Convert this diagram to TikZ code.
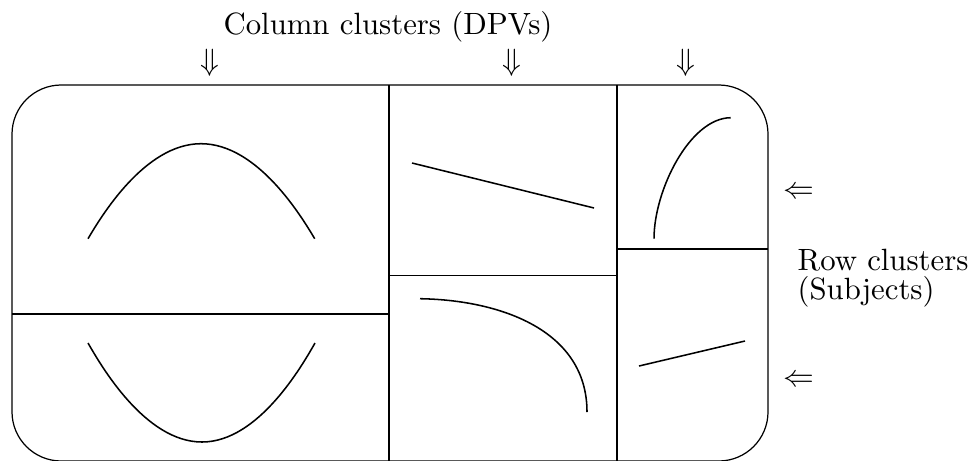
\documentclass[tikz,border=0pt]{standalone}
\usepackage{amsmath}
\usepackage{tikz}

\begin{document}
\begin{tikzpicture}[x=0.325pt,y=-0.325pt,
 every node/.style={inner sep=0pt},
 curve/.style={line width=0.5pt}]
 \useasboundingbox (0,0) rectangle (974,460);
 \draw[rounded corners=16pt] (12,85) rectangle (768,461);
 \draw (389,85) -- (389,461) (617,85) -- (617,461);
 \draw (12,314) -- (389,314) (389,275.5) -- (617,275.5) (617,249) -- (768,249);
 % clusters
 \draw[curve] (88,238.7) parabola bend (201,143.7) (314.7,238.7);
 \draw[curve] (88,343) parabola bend (202,442) (315,343);
 \draw[curve] (412,163) -- (594,208);
 \draw[curve] (420,298.7) .. controls (500,300) and (587,330) .. (587,412);
 \draw[curve] (654,238.7) .. controls (654,190) and (690,118) .. (730.7,117.7);
 \draw[curve] (639,366) -- (745,341);
 % labels
 \node[anchor=base] (col) at (388,34) {Column clusters (DPVs)};
 \node (c1) at (210,63) {$\Downarrow$};
 \node (c2) at (512,63) {$\Downarrow$};
 \node (c3) at (686,63) {$\Downarrow$};
 \node (r1) at (799,193) {$\Leftarrow$};
 \node (r2) at (799,381) {$\Leftarrow$};
 \node[anchor=west,align=left] (row) at (797,278) {Row clusters\\[-2.4pt](Subjects)};
\end{tikzpicture}
\end{document}
